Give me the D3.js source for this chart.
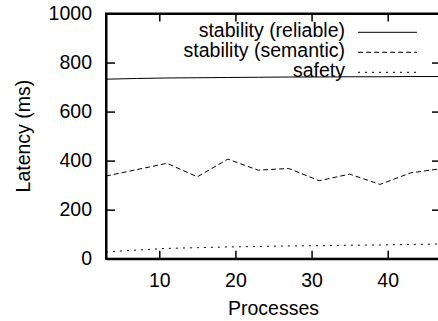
<!DOCTYPE html>
<html>
<head>
<meta charset="utf-8">
<script src="https://cdn.jsdelivr.net/npm/d3@7"></script>
<style>
  html, body { margin: 0; padding: 0; background: #fff; }
  svg { display: block; }
  text { font-family: "Liberation Sans", Arial, Helvetica, sans-serif; fill: #000; }
</style>
</head>
<body>
<svg id="chart" width="438" height="321"></svg>
<script>
// ---- data ----
const processes = [3, 7, 11, 15, 19, 23, 27, 31, 35, 39, 43, 47];
const stabilityReliable = [732, 735, 737, 738, 739, 740, 741, 741, 742, 742, 743, 743];
const stabilitySemantic = [337, 363, 389, 334, 406, 361, 368, 318, 345, 303, 350, 367];
const safety = [28, 35, 42, 45, 48, 50, 52, 53, 55, 56, 58, 60];
const seriesNames = ["stability (reliable)", "stability (semantic)", "safety"];
const xTickValues = [10, 20, 30, 40];
const yTickValues = [0, 200, 400, 600, 800, 1000];
const xLabel = "Processes";
const yLabel = "Latency (ms)";

(function () {
// ---- layout ----
const pL = 106, pR = 441, pT = 13.5, pB = 258.7;
const fs = 19.5;

const svg = d3.select("#chart");
const x = d3.scaleLinear().domain([3, 47]).range([pL, pR]);
const y = d3.scaleLinear().domain([0, 1000]).range([pB, pT]);

// frame
svg.append("rect")
  .attr("x", pL).attr("y", pT)
  .attr("width", pR - pL).attr("height", pB - pT)
  .attr("fill", "none").attr("stroke", "#000").attr("stroke-width", 2);

// axes
const axB = svg.append("g").attr("transform", `translate(0,${pB})`)
  .call(d3.axisBottom(x).tickValues(xTickValues).tickFormat(d3.format("d")).tickSizeInner(-8).tickSizeOuter(0).tickPadding(14.5));
const axL = svg.append("g").attr("transform", `translate(${pL},0)`)
  .call(d3.axisLeft(y).tickValues(yTickValues).tickFormat(d3.format("d")).tickSizeInner(-9).tickSizeOuter(0).tickPadding(14));
const axT = svg.append("g").attr("transform", `translate(0,${pT})`)
  .call(d3.axisTop(x).tickValues(xTickValues).tickSizeInner(-8).tickSizeOuter(0).tickFormat(""));
const axR = svg.append("g").attr("transform", `translate(${pR},0)`)
  .call(d3.axisRight(y).tickValues(yTickValues).tickSizeInner(-9).tickSizeOuter(0).tickFormat(""));

[axB, axL, axT, axR].forEach(a => {
  a.select(".domain").attr("stroke", "#000").attr("stroke-width", 2);
  a.selectAll(".tick line").attr("stroke", "#000").attr("stroke-width", 1.5);
  a.selectAll("text").attr("font-size", fs).attr("font-family", "Liberation Sans, Arial, sans-serif").attr("fill", "#000");
});

// series
const dashes = [null, "5,3", "2,5"];
const allSeries = [stabilityReliable, stabilitySemantic, safety];
const line = d3.line().x((d, i) => x(processes[i])).y(d => y(d));

svg.append("defs").append("clipPath").attr("id", "clip")
  .append("rect").attr("x", pL).attr("y", pT).attr("width", pR - pL).attr("height", pB - pT);

allSeries.forEach((s, k) => {
  svg.append("path")
    .datum(s)
    .attr("d", line)
    .attr("fill", "none")
    .attr("stroke", "#000")
    .attr("stroke-width", 1)
    .attr("stroke-dasharray", dashes[k])
    .attr("clip-path", "url(#clip)");
});

// legend
const legTextX = 345, legLineX1 = 358, legLineX2 = 417;
seriesNames.forEach((name, k) => {
  const cy = 32.3 + k * 20;
  svg.append("text")
    .attr("x", legTextX).attr("y", cy + 4.5)
    .attr("text-anchor", "end")
    .attr("font-size", fs)
    .text(name);
  svg.append("line")
    .attr("x1", legLineX1).attr("x2", legLineX2)
    .attr("y1", cy).attr("y2", cy)
    .attr("stroke", "#000").attr("stroke-width", 1)
    .attr("stroke-dasharray", dashes[k]);
});

// axis labels
svg.append("text")
  .attr("x", (pL + pR) / 2).attr("y", 315)
  .attr("text-anchor", "middle")
  .attr("font-size", fs)
  .text(xLabel);
svg.append("text")
  .attr("transform", `translate(30,${(pT + pB) / 2}) rotate(-90)`)
  .attr("text-anchor", "middle")
  .attr("font-size", fs)
  .text(yLabel);
})();
</script>
</body>
</html>
